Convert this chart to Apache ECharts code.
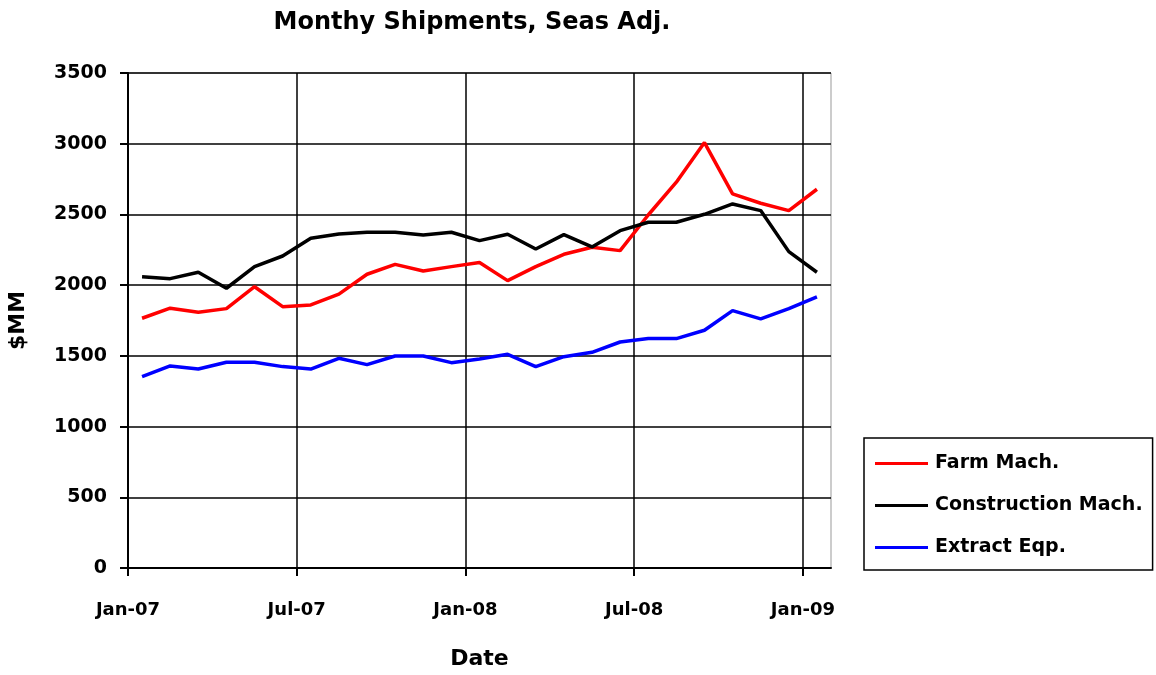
<!DOCTYPE html>
<html>
<head>
<meta charset="utf-8">
<script src="https://cdn.jsdelivr.net/npm/echarts@6/dist/echarts.min.js"></script>
<style>
html,body{margin:0;padding:0;background:#fff;}
#main{width:1156px;height:675px;}
</style>
</head>
<body>
<div id="main"></div>
<script>
// month index 0 = Jan-07, points sit mid-month
const months = ['Jan-07','Feb-07','Mar-07','Apr-07','May-07','Jun-07','Jul-07','Aug-07','Sep-07','Oct-07','Nov-07','Dec-07',
  'Jan-08','Feb-08','Mar-08','Apr-08','May-08','Jun-08','Jul-08','Aug-08','Sep-08','Oct-08','Nov-08','Dec-08','Jan-09'];
const tickLabels = ['Jan-07','Jul-07','Jan-08','Jul-08','Jan-09'];
const tickPos = [0, 6, 12, 18, 24];

const farmMach = [1766,1837,1808,1834,1989,1848,1860,1936,2077,2147,2100,2131,2160,2032,2131,2218,2268,2244,2496,2728,3008,2645,2579,2527,2678];
const constructionMach = [2060,2046,2091,1978,2131,2206,2332,2362,2374,2374,2355,2374,2315,2360,2256,2357,2270,2385,2445,2445,2501,2574,2527,2237,2091];
const extractEqp = [1353,1429,1407,1455,1455,1424,1407,1483,1438,1499,1499,1452,1478,1511,1424,1494,1525,1598,1622,1622,1681,1820,1761,1834,1917];

const font = '"DejaVu Sans", sans-serif';
const pts = arr => arr.map((v, i) => [i + 0.5, v]);

const chart = echarts.init(document.getElementById('main'));
chart.setOption({
  animation: false,
  title: {
    text: 'Monthy Shipments, Seas Adj.',
    left: 467, top: 6, textAlign: 'center',
    textStyle: {fontFamily: font, fontWeight: 'bold', fontSize: 24, color: '#000'}
  },
  legend: {
    orient: 'vertical',
    left: 864, top: 438,
    padding: [16, 10, 13, 11],
    borderColor: '#000', borderWidth: 1.5,
    itemGap: 23,
    icon: 'rect', itemWidth: 53, itemHeight: 3,
    textStyle: {fontFamily: font, fontWeight: 'bold', fontSize: 19, color: '#000', padding: [0, 0, 0, 2]},
    data: ['Farm Mach.', 'Construction Mach.', 'Extract Eqp.']
  },
  grid: {
    left: 128, top: 73, right: 325, bottom: 107,
    outerBoundsMode: 'none',
    show: true, borderColor: '#999', borderWidth: 1, containLabel: false
  },
  xAxis: {
    type: 'value', min: 0, max: 25, interval: 6,
    name: 'Date', nameLocation: 'middle', nameGap: 80,
    nameTextStyle: {fontFamily: font, fontWeight: 'bold', fontSize: 22, color: '#000'},
    axisLine: {lineStyle: {color: '#000', width: 2}},
    axisTick: {show: true, length: 8, lineStyle: {color: '#000', width: 2}, customValues: tickPos},
    axisLabel: {
      customValues: tickPos,
      margin: 33, fontFamily: font, fontWeight: 'bold', fontSize: 18, color: '#000',
      formatter: v => tickLabels[tickPos.indexOf(Math.round(v))] || ''
    },
    splitLine: {show: true, lineStyle: {color: '#000', width: 1.5}}
  },
  yAxis: {
    type: 'value', min: 0, max: 3500, interval: 500,
    name: '$MM', nameLocation: 'middle', nameGap: 99,
    nameTextStyle: {fontFamily: font, fontWeight: 'bold', fontSize: 22, color: '#000'},
    axisLine: {show: true, lineStyle: {color: '#000', width: 2}},
    axisTick: {show: true, length: 8, lineStyle: {color: '#000', width: 2}},
    axisLabel: {margin: 21, fontFamily: font, fontWeight: 'bold', fontSize: 19, color: '#000',
      formatter: v => String(v)},
    splitLine: {show: true, lineStyle: {color: '#000', width: 1.5}}
  },
  series: [
    {name: 'Farm Mach.', type: 'line', data: pts(farmMach), symbol: 'none',
      lineStyle: {color: '#ff0000', width: 3.5}, itemStyle: {color: '#ff0000'}},
    {name: 'Construction Mach.', type: 'line', data: pts(constructionMach), symbol: 'none',
      lineStyle: {color: '#000000', width: 3.5}, itemStyle: {color: '#000000'}},
    {name: 'Extract Eqp.', type: 'line', data: pts(extractEqp), symbol: 'none',
      lineStyle: {color: '#0000ff', width: 3.5}, itemStyle: {color: '#0000ff'}}
  ]
});
</script>
</body>
</html>
